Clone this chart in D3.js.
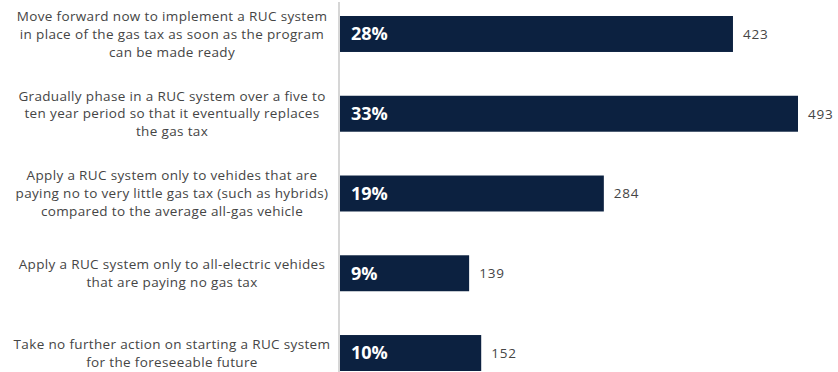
<!DOCTYPE html>
<html>
<head>
<meta charset="utf-8">
<script src="https://cdn.jsdelivr.net/npm/d3@7"></script>
<style>
    body { margin: 0; background: #fff; }
    svg { display: block; }
</style>
</head>
<body>
<div id="chart"></div>
<script>
// Chart data
const categories = [
    ["Move forward now to implement a RUC system", "in place of the gas tax as soon as the program", "can be made ready"],
    ["Gradually phase in a RUC system over a five to", "ten year period so that it eventually replaces", "the gas tax"],
    ["Apply a RUC system only to vehides that are", "paying no to very little gas tax (such as hybrids)", "compared to the average all-gas vehicle"],
    ["Apply a RUC system only to all-electric vehides", "that are paying no gas tax"],
    ["Take no further action on starting a RUC system", "for the foreseeable future"]
];
const percents = ["28%", "33%", "19%", "9%", "10%"];
const counts = [423, 493, 284, 139, 152];

const width = 838;
const height = 372;
const axisX = 340;
const labelCenterX = 172;
const barColor = "#0c2140";
const textColor = "#454545";
const labelFont = "'Open Sans', sans-serif";

const svg = d3.select("#chart")
    .append("svg")
    .attr("width", width)
    .attr("height", height);

const ids = d3.range(categories.length);

const y = d3.scaleBand()
    .domain(ids)
    .range([16, 371])
    .paddingInner(0.549)
    .paddingOuter(0);

const x = d3.scaleLinear()
    .domain([0, d3.max(counts)])
    .range([axisX, 798]);

// Bars
svg.selectAll(".bar")
    .data(ids)
    .enter()
    .append("rect")
    .attr("class", "bar")
    .attr("x", x(0))
    .attr("y", i => y(i))
    .attr("width", i => x(counts[i]) - x(0))
    .attr("height", y.bandwidth())
    .attr("fill", barColor);

// Vertical axis line
svg.append("line")
    .attr("x1", axisX - 1)
    .attr("x2", axisX - 1)
    .attr("y1", 2)
    .attr("y2", height)
    .attr("stroke", "#d6d6d6")
    .attr("stroke-width", 2);

// Percent labels inside bars
svg.selectAll(".pct")
    .data(ids)
    .enter()
    .append("text")
    .attr("class", "pct")
    .attr("x", x(0) + 11)
    .attr("y", i => y(i) + y.bandwidth() / 2)
    .attr("dy", "0.36em")
    .attr("fill", "#fff")
    .attr("font-family", labelFont)
    .attr("font-weight", 700)
    .attr("font-size", 18)
    .text(i => percents[i]);

// Count labels after bars
svg.selectAll(".count")
    .data(ids)
    .enter()
    .append("text")
    .attr("class", "count")
    .attr("x", i => x(counts[i]) + 10)
    .attr("y", i => y(i) + y.bandwidth() / 2)
    .attr("dy", "0.36em")
    .attr("fill", textColor)
    .attr("font-family", labelFont)
    .attr("font-size", 13.5)
    .attr("letter-spacing", 0.8)
    .text(i => counts[i]);

// Category labels, centred on each bar
const lineHeight = 17.8;
const cat = svg.selectAll(".cat")
    .data(ids)
    .enter()
    .append("text")
    .attr("class", "cat")
    .attr("text-anchor", "middle")
    .attr("fill", textColor)
    .attr("font-family", labelFont)
    .attr("font-size", 13.5)
    .attr("letter-spacing", 0.35);

cat.each(function (i) {
    const lines = categories[i];
    const mid = y(i) + y.bandwidth() / 2;
    const top = mid - (lines.length - 1) * lineHeight / 2;
    d3.select(this).selectAll("tspan")
        .data(lines)
        .enter()
        .append("tspan")
        .attr("x", labelCenterX)
        .attr("y", (d, k) => top + k * lineHeight)
        .attr("dy", "0.35em")
        .text(d => d);
});
</script>
</body>
</html>
